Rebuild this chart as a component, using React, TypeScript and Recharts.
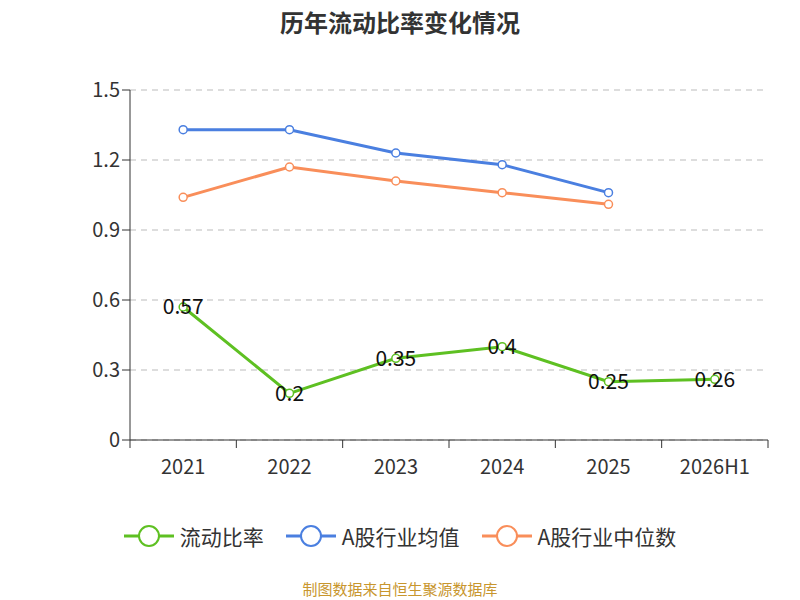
import React from 'react';
import { LineChart, Line, XAxis, YAxis, CartesianGrid, LabelList } from 'recharts';

const categories = ['2021', '2022', '2023', '2024', '2025', '2026H1'];
const ratio = [0.57, 0.2, 0.35, 0.4, 0.25, 0.26];
const industryAvg = [1.33, 1.33, 1.23, 1.18, 1.06, null];
const industryMedian = [1.04, 1.17, 1.11, 1.06, 1.01, null];
const yTicks = [0, 0.3, 0.6, 0.9, 1.2, 1.5];
const legendItems = [
  { name: '流动比率', color: '#5ec022' },
  { name: 'A股行业均值', color: '#4a7fe0' },
  { name: 'A股行业中位数', color: '#f98e5a' },
];

const data = categories.map((c, i) => ({ name: c, ratio: ratio[i], avg: industryAvg[i], med: industryMedian[i] }));
const BAND = 638 / 6;

const Tick = (props: any) => {
  const { x, y, payload, index } = props;
  return (
    <g>
      <line x1={x - BAND / 2} x2={x - BAND / 2} y1={y - 8} y2={y} stroke="#333" />
      {index === categories.length - 1 && <line x1={x + BAND / 2} x2={x + BAND / 2} y1={y - 8} y2={y} stroke="#333" />}
      <text x={x} y={y + 26} textAnchor="middle" fill="#333" fontSize={20}>{payload.value}</text>
    </g>
  );
};

export default function App() {
  return (
    <div style={{ position: 'absolute', left: 0, top: 0, width: 800, height: 600, fontFamily: '"Noto Sans CJK SC", "Noto Sans", sans-serif', background: '#fff' }}>
      <div style={{ position: 'absolute', top: 4, width: 800, textAlign: 'center', fontSize: 24, fontWeight: 'bold', color: '#333' }}>历年流动比率变化情况</div>
      <LineChart width={800} height={600} data={data} margin={{ top: 90, right: 32, left: 70, bottom: 124 }}>
        <CartesianGrid horizontal vertical={false} stroke="#bbb" strokeDasharray="6 5" />
        <XAxis dataKey="name" scale="band" tickLine={false} tick={<Tick />} stroke="#333" height={36} interval={0} />
        <YAxis domain={[0, 1.5]} ticks={yTicks} tick={{ fontSize: 20, fill: '#333' }} stroke="#333" width={60} tickSize={8} />
        <Line dataKey="avg" stroke="#4a7fe0" strokeWidth={3} dot={{ r: 4, fill: '#fff', strokeWidth: 1.5 }} isAnimationActive={false} />
        <Line dataKey="med" stroke="#f98e5a" strokeWidth={3} dot={{ r: 4, fill: '#fff', strokeWidth: 1.5 }} isAnimationActive={false} />
        <Line dataKey="ratio" stroke="#5ec022" strokeWidth={3} dot={{ r: 4, fill: '#fff', strokeWidth: 1.5 }} isAnimationActive={false}>
          <LabelList dataKey="ratio" position="center" fill="#111" fontSize={21} />
        </Line>
      </LineChart>
      <div style={{ position: 'absolute', top: 521, width: 800, display: 'flex', justifyContent: 'center', gap: 22, fontSize: 21, color: '#333' }}>
        {legendItems.map((it) => (
          <div key={it.name} style={{ display: 'flex', alignItems: 'center' }}>
            <svg width={50} height={30} style={{ marginRight: 6 }}>
              <line x1={0} x2={50} y1={15} y2={15} stroke={it.color} strokeWidth={3} />
              <circle cx={25} cy={15} r={10} fill="#fff" stroke={it.color} strokeWidth={2} />
            </svg>
            <span>{it.name}</span>
          </div>
        ))}
      </div>
      <div style={{ position: 'absolute', top: 578, width: 800, textAlign: 'center', fontSize: 15, color: '#c8962e' }}>制图数据来自恒生聚源数据库</div>
    </div>
  );
}
